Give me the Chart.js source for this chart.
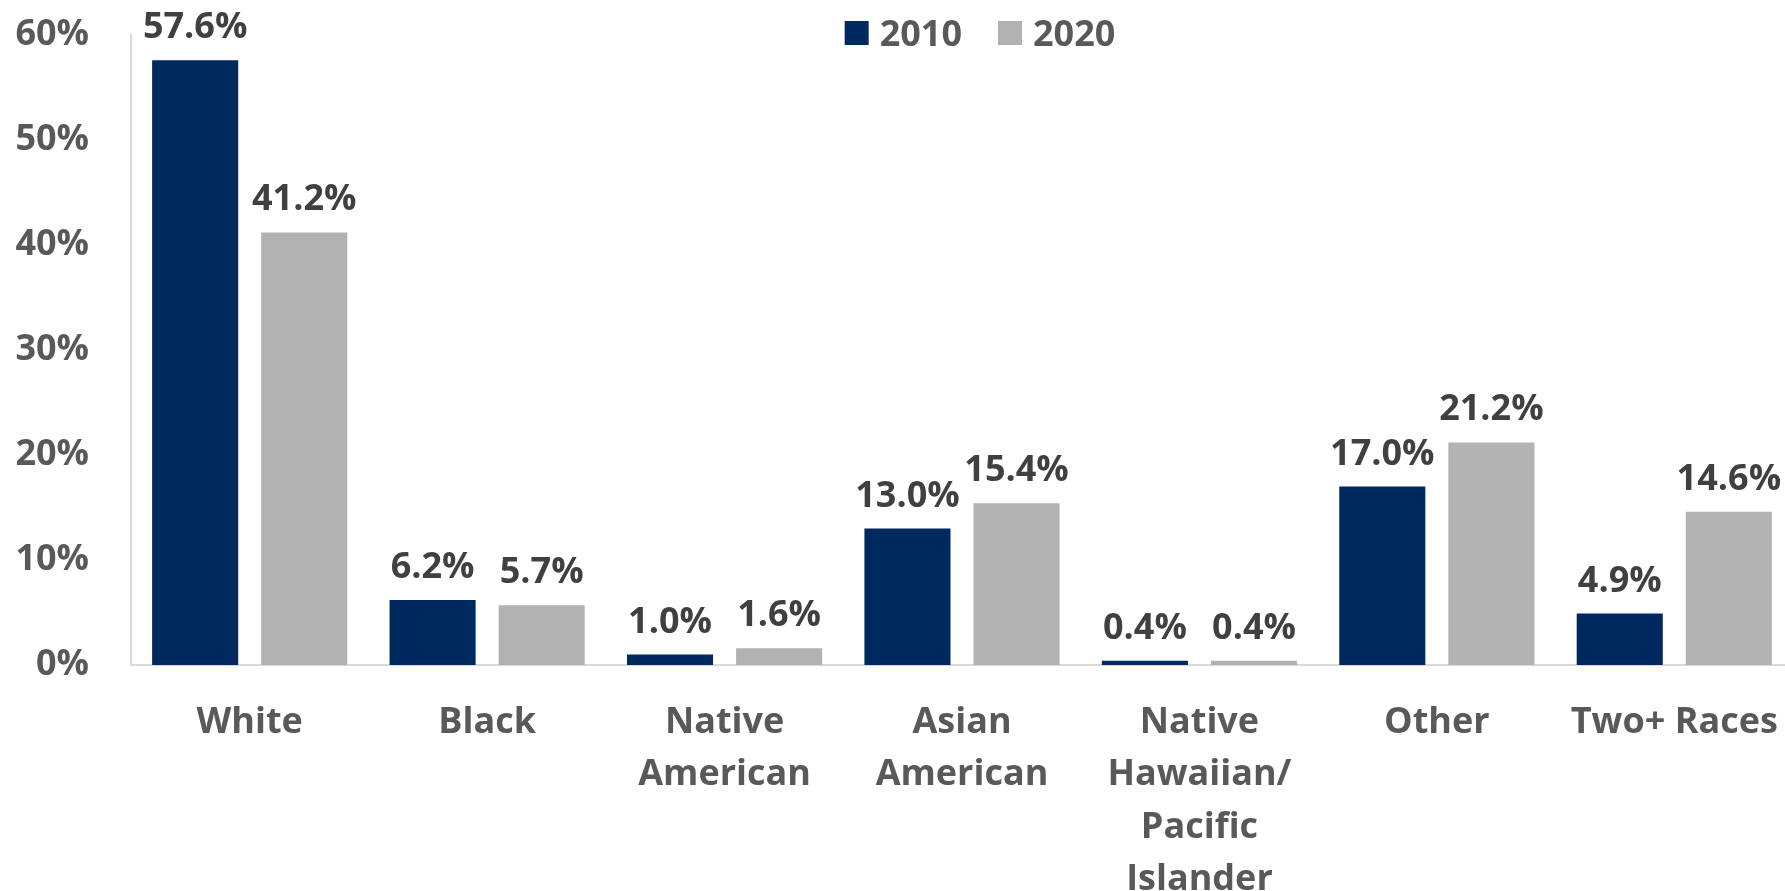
<!DOCTYPE html>
<html>
<head>
<meta charset="utf-8">
<script src="https://cdn.jsdelivr.net/npm/chart.js@4.4.1/dist/chart.umd.min.js"></script>
<style>
  html, body { margin: 0; padding: 0; background: #fff; overflow: hidden; }
  canvas { display: block; }
</style>
</head>
<body>
<canvas id="c" width="1793" height="891" style="width:1793px;height:891px"></canvas>
<script>
const categories = [
  ['White'],
  ['Black'],
  ['Native', 'American'],
  ['Asian', 'American'],
  ['Native', 'Hawaiian/', 'Pacific', 'Islander'],
  ['Other'],
  ['Two+ Races']
];
const seriesNames = ['2010', '2020'];
const values2010 = [57.6, 6.2, 1.0, 13.0, 0.4, 17.0, 4.9];
const values2020 = [41.2, 5.7, 1.6, 15.4, 0.4, 21.2, 14.6];
const yTicks = [0, 10, 20, 30, 40, 50, 60];

const NAVY = '#002960';
const GRAY = '#B2B2B2';
const MAIN_FONT = '"Open Sans", "Liberation Sans", sans-serif';

// data labels above bars
const dataLabelPlugin = {
  id: 'dataLabels',
  afterDatasetsDraw(chart) {
    const ctx = chart.ctx;
    ctx.save();
    ctx.font = 'bold 36px ' + MAIN_FONT;
    ctx.fillStyle = '#404040';
    ctx.textAlign = 'center';
    ctx.textBaseline = 'alphabetic';
    chart.data.datasets.forEach((ds, di) => {
      const meta = chart.getDatasetMeta(di);
      meta.data.forEach((bar, i) => {
        ctx.fillText(ds.data[i].toFixed(1) + '%', bar.x, bar.y - 22);
      });
    });
    ctx.restore();
  }
};

// category labels under the axis
const categoryLabelPlugin = {
  id: 'categoryLabels',
  afterDraw(chart) {
    const ctx = chart.ctx;
    const xs = chart.scales.x;
    const firstBaseline = xs.top + 68;
    const lineStep = 52.4;
    ctx.save();
    ctx.font = 'bold 36px ' + MAIN_FONT;
    ctx.fillStyle = '#595959';
    ctx.textAlign = 'center';
    ctx.textBaseline = 'alphabetic';
    chart.data.labels.forEach((lbl, i) => {
      const lines = Array.isArray(lbl) ? lbl : [lbl];
      const cx = xs.getPixelForValue(i);
      lines.forEach((line, li) => {
        ctx.fillText(line, cx, firstBaseline + li * lineStep);
      });
    });
    ctx.restore();
  }
};

// legend at top
const legendPlugin = {
  id: 'customLegend',
  afterDraw(chart) {
    const ctx = chart.ctx;
    ctx.save();
    ctx.font = 'bold 36px ' + MAIN_FONT;
    const box = 24, gapBoxText = 11, gapItems = 36;
    const items = chart.data.datasets.map(ds => ({
      label: ds.label, color: ds.backgroundColor, w: ctx.measureText(ds.label).width
    }));
    let total = 0;
    items.forEach((it, i) => { total += box + gapBoxText + it.w + (i < items.length - 1 ? gapItems : 0); });
    const ca = chart.chartArea;
    const center = (ca.left + ca.right) / 2 + 18;
    let x = center - total / 2;
    ctx.textBaseline = 'alphabetic';
    ctx.textAlign = 'left';
    items.forEach(it => {
      ctx.fillStyle = it.color;
      ctx.fillRect(x, 21, box, box);
      x += box + gapBoxText;
      ctx.fillStyle = '#595959';
      ctx.fillText(it.label, x, 46);
      x += it.w + gapItems;
    });
    ctx.restore();
  }
};

new Chart(document.getElementById('c'), {
  type: 'bar',
  data: {
    labels: categories,
    datasets: [
      { label: seriesNames[0], data: values2010, backgroundColor: NAVY,
        categoryPercentage: 0.919, barPercentage: 0.789 },
      { label: seriesNames[1], data: values2020, backgroundColor: GRAY,
        categoryPercentage: 0.919, barPercentage: 0.789 }
    ]
  },
  options: {
    responsive: false,
    animation: false,
    layout: { padding: { top: 35, right: 0, bottom: 0, left: 0 } },
    plugins: {
      legend: { display: false },
      tooltip: { enabled: false }
    },
    scales: {
      x: {
        grid: { display: false, drawTicks: false },
        border: { display: true, color: '#D9D9D9', width: 2 },
        ticks: { display: false },
        afterFit(scale) { scale.height = 226; }
      },
      y: {
        min: yTicks[0],
        max: yTicks[yTicks.length - 1],
        grid: { display: false, drawTicks: false },
        border: { display: true, color: '#D9D9D9', width: 2 },
        afterBuildTicks(scale) { scale.ticks = yTicks.map(v => ({ value: v })); },
        ticks: {
          color: '#595959',
          padding: 42,
          font: { family: MAIN_FONT, size: 36, weight: 'bold' },
          callback: (v) => v + '%'
        },
        afterFit(scale) {
          scale.width = 131;
          scale.paddingTop = 0;
          scale.paddingBottom = 0;
        }
      }
    }
  },
  plugins: [dataLabelPlugin, categoryLabelPlugin, legendPlugin]
});
</script>
</body>
</html>
